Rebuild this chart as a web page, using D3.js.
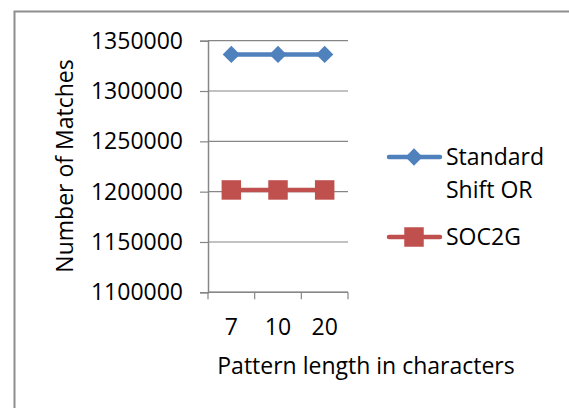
<!DOCTYPE html>
<html>
<head>
<meta charset="utf-8">
<script src="https://cdn.jsdelivr.net/npm/d3@7"></script>
<style>
  body { margin: 0; background: #fff; }
  svg text { font-family: "Open Sans", "Liberation Sans", sans-serif; fill: #000; }
</style>
</head>
<body>
<svg id="chart" width="569" height="408"></svg>
<script>
// values
var categories = ["7", "10", "20"];
var standardShiftOr = [1336300, 1336300, 1336300];
var soc2g = [1201700, 1201700, 1201700];
var yTicks = [1100000, 1150000, 1200000, 1250000, 1300000, 1350000];
var seriesNames = [["Standard", "Shift OR"], ["SOC2G"]];

var svg = d3.select("#chart"),
    MARGINS = {top: 40.7, left: 208, right: 348, bottom: 292.3},
    FONT = 23;

// outer border, runs off the right and bottom edge like the picture
svg.append("rect")
    .attr("x", 14.5).attr("y", 11.5)
    .attr("width", 600).attr("height", 450)
    .attr("fill", "none")
    .attr("stroke", "#8e8e8e")
    .attr("stroke-width", 2);

var xScale = d3.scaleBand()
    .domain(categories)
    .range([MARGINS.left, MARGINS.right]);

var yScale = d3.scaleLinear()
    .domain([d3.min(yTicks), d3.max(yTicks)])
    .range([MARGINS.bottom, MARGINS.top]);

// gridlines
svg.append("g")
    .selectAll("line")
    .data(yTicks)
    .enter().append("line")
    .attr("x1", MARGINS.left).attr("x2", MARGINS.right)
    .attr("y1", function(d){ return yScale(d); })
    .attr("y2", function(d){ return yScale(d); })
    .attr("stroke", "#868686")
    .attr("stroke-width", 1.2);

// y axis
var yAxis = d3.axisLeft(yScale).tickValues(yTicks).tickSize(8).tickPadding(17)
    .tickFormat(d3.format("d"));
var gy = svg.append("g")
    .attr("transform", "translate(" + MARGINS.left + ",0)")
    .call(yAxis);
gy.select(".domain").attr("stroke", "#868686").attr("stroke-width", 1.5);
gy.selectAll(".tick line").attr("stroke", "#868686").attr("stroke-width", 1.2);
gy.selectAll(".tick text").attr("font-size", FONT).attr("font-family", null);

// x axis: ticks on band edges, labels at band centres
var edges = categories.map(function(c){ return xScale(c); }).concat([MARGINS.right]);
svg.append("line")
    .attr("x1", MARGINS.left).attr("x2", MARGINS.right)
    .attr("y1", MARGINS.bottom).attr("y2", MARGINS.bottom)
    .attr("stroke", "#868686").attr("stroke-width", 1.5);
svg.append("g").selectAll("line")
    .data(edges)
    .enter().append("line")
    .attr("x1", function(d){ return d; }).attr("x2", function(d){ return d; })
    .attr("y1", MARGINS.bottom).attr("y2", MARGINS.bottom + 7)
    .attr("stroke", "#868686").attr("stroke-width", 1.2);
svg.append("g").selectAll("text")
    .data(categories)
    .enter().append("text")
    .attr("x", function(d){ return xScale(d) + xScale.bandwidth()/2; })
    .attr("y", 335)
    .attr("text-anchor", "middle")
    .attr("font-size", FONT)
    .text(function(d){ return d; });

// axis titles
svg.append("text")
    .attr("x", 366).attr("y", 374)
    .attr("text-anchor", "middle")
    .attr("font-size", FONT)
    .text("Pattern length in characters");

svg.append("text")
    .attr("transform", "translate(73,166) rotate(-90)")
    .attr("text-anchor", "middle")
    .attr("font-size", FONT)
    .text("Number of Matches");

// series
var lineGen = d3.line()
    .x(function(d, i){ return xScale(categories[i]) + xScale.bandwidth()/2; })
    .y(function(d){ return yScale(d); });

var series = [
    {values: standardShiftOr, color: "#4f81bd", marker: d3.symbolDiamond2, size: 190},
    {values: soc2g, color: "#c0504d", marker: d3.symbolSquare, size: 380}
];

series.forEach(function(s){
    svg.append("path")
        .attr("d", lineGen(s.values))
        .attr("fill", "none")
        .attr("stroke", s.color)
        .attr("stroke-width", 4.5);
    svg.append("g").selectAll("path")
        .data(s.values)
        .enter().append("path")
        .attr("transform", function(d, i){
            return "translate(" + (xScale(categories[i]) + xScale.bandwidth()/2) + "," + yScale(d) + ")";
        })
        .attr("d", d3.symbol().type(s.marker).size(s.size))
        .attr("fill", s.color);
});

// legend
var legendY = [157, 237];
series.forEach(function(s, i){
    var g = svg.append("g").attr("transform", "translate(0," + legendY[i] + ")");
    g.append("line")
        .attr("x1", 389).attr("x2", 440)
        .attr("stroke", s.color)
        .attr("stroke-width", 4.5)
        .attr("stroke-linecap", "round");
    g.append("path")
        .attr("transform", "translate(414,0)")
        .attr("d", d3.symbol().type(s.marker).size(s.size))
        .attr("fill", s.color);
    seriesNames[i].forEach(function(t, j){
        g.append("text")
            .attr("x", 446)
            .attr("y", 8 + j * 33)
            .attr("font-size", FONT)
            .text(t);
    });
});
</script>
</body>
</html>
